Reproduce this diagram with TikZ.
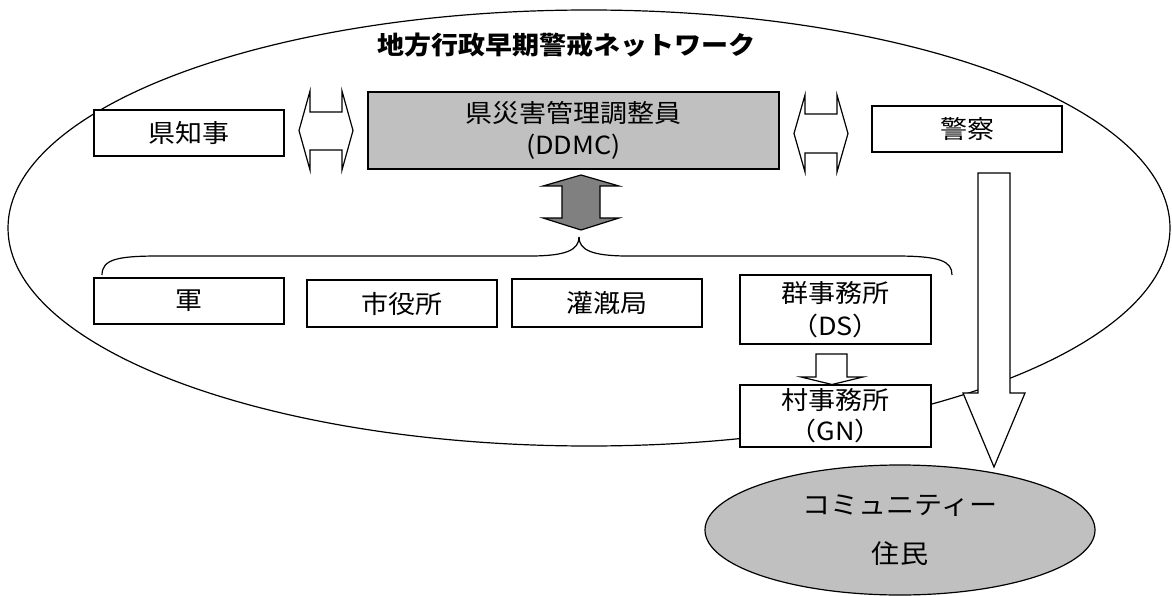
\documentclass[tikz,border=0pt]{standalone}
\usepackage{fontspec}
\setmainfont{Noto Sans CJK JP}[FakeStretch=1.08]
\usetikzlibrary{shapes.geometric}
\definecolor{lgray}{RGB}{192,192,192}
\definecolor{dgray}{RGB}{128,128,128}
\begin{document}
\begin{tikzpicture}[x=1pt,y=-1pt,line width=1.2pt,
  box/.style={draw,fill=white,rectangle,inner sep=0pt,align=center,
    font=\fontsize{25}{32}\selectfont},
  blockarrow/.style={draw,fill=white,line join=miter},
  title/.style={font=\fontsize{25}{30}\selectfont\bfseries,inner sep=0pt}]
\useasboundingbox (0,0) rectangle (1172,596);
% outer network ellipse
\draw (589,228) ellipse [x radius=581, y radius=218];
\node[title] (ttl) at (566,45) {地方行政早期警戒ネットワーク};
% top row
\node[box,minimum width=190pt,minimum height=46pt] (gov) at (189,133) {県知事};
\node[box,fill=lgray,minimum width=411pt,minimum height=77pt] (ddmc) at (573.5,130.5) {県災害管理調整員\\(DDMC)};
\node[box,minimum width=190pt,minimum height=46pt] (pol) at (967,129) {警察};
% horizontal double arrows
\draw[blockarrow] (310,91) -- (299,130.5) -- (310,170) -- (310,150) -- (342,150) -- (342,170)
  -- (353,130.5) -- (342,91) -- (342,112) -- (310,112) -- cycle;
\draw[blockarrow] (805,95) -- (794,133.5) -- (805,172) -- (805,153) -- (837,153) -- (837,172)
  -- (848,133.5) -- (837,95) -- (837,114) -- (805,114) -- cycle;
% vertical grey double arrow
\draw[fill=dgray,line join=miter] (581,175) -- (543,186) -- (562,186) -- (562,218) -- (543,218)
  -- (581,230) -- (619,218) -- (600,218) -- (600,186) -- (619,186) -- cycle;
% brace
\draw (102,275) .. controls (102,259) and (118,256) .. (160,256) -- (530,256)
  .. controls (566,256) and (579,250) .. (579,237);
\draw (579,237) .. controls (579,250) and (592,256) .. (628,256) -- (895,256)
  .. controls (940,256) and (952,261) .. (952,275);
% bottom row
\node[box,minimum width=190pt,minimum height=46pt] (army) at (189,301) {軍};
\node[box,minimum width=190pt,minimum height=47pt] (city) at (402,303.5) {市役所};
\node[box,minimum width=190pt,minimum height=48pt] (irr) at (607,303) {灌漑局};
\node[box,minimum width=191pt,minimum height=69pt,font=\fontsize{25}{33}\selectfont] (ds) at (835.5,309.5) {群事務所\\（DS）};
% small down arrow
\draw[blockarrow] (816,354) -- (847,354) -- (847,377) -- (863,377) -- (832,384.5) -- (801,377)
  -- (816,377) -- cycle;
\node[box,minimum width=191pt,minimum height=62pt,font=\fontsize{25}{31}\selectfont] (gn) at (835.5,416) {村事務所\\（GN）};
% community
\node[draw,ellipse,fill=lgray,minimum width=390pt,minimum height=130pt,inner sep=0pt,
  align=center,font=\fontsize{26}{49}\selectfont] (comm) at (900,530) {コミュニティー\\住民};
% big down arrow
\draw[blockarrow] (978,173) -- (1010,173) -- (1010,393) -- (1025,393) -- (994,467)
  -- (963,393) -- (978,393) -- cycle;
\end{tikzpicture}
\end{document}
